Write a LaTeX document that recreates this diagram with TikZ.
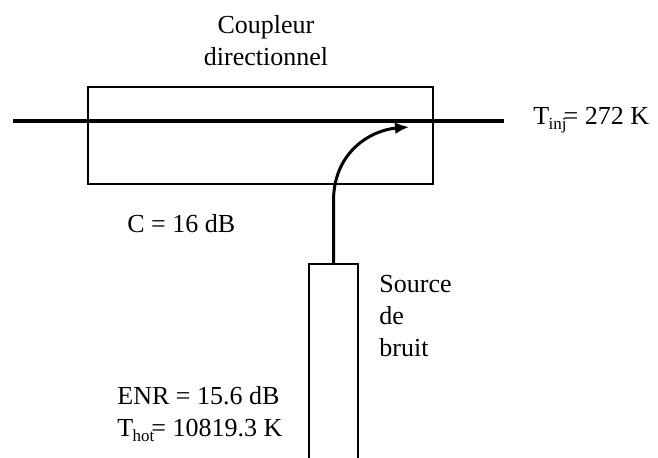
\documentclass[tikz,border=0pt]{standalone}
\usepackage{fontspec}
\setmainfont{Liberation Serif}
\usetikzlibrary{arrows.meta,positioning}
\newcommand{\indice}[1]{\kern-0.3pt\raisebox{-2.6pt}{\fontsize{8.5}{10}\selectfont #1}\kern-1.5pt}
\begin{document}
\begin{tikzpicture}[
    x=0.5pt, y=-0.5pt,
    font=\fontsize{13}{16}\selectfont,
    box/.style={rectangle, draw=black, line width=1pt, inner sep=0pt},
    lbl/.style={inner sep=0pt, align=left},
    ligne/.style={line width=1.65pt},
    arr/.style={-{Latex[length=7pt,width=6pt]}, line width=1.5pt}
  ]
  \useasboundingbox (0,0) rectangle (658,457);

  % Boxes
  \node[box, minimum width=172.5pt, minimum height=48.5pt] (coupleur) at (260.5,135.5) {};
  \node[box, minimum width=24.5pt, minimum height=103pt] (source) at (333.5,367) {};

  % Main line
  \coordinate (entree) at (13,121);
  \coordinate (sortie) at (504,121);
  \draw[ligne] (entree) -- (sortie);

  % Coupled arrow
  \coordinate (pointe) at (409,127);
  \draw[arr] (source.north) -- ++(0,-62) .. controls +(0,-50) and (372,130) .. (pointe);

  % Labels
  \node[lbl, anchor=base, align=center] (titre) at (266,65) {Coupleur\\directionnel};
  \node[lbl, anchor=base west] (tinj) at (533,124) {T\indice{inj} = 272 K};
  \node[lbl, anchor=base west] (couplage) at (127,232) {C = 16 dB};
  \node[lbl, anchor=base west] (bruit) at (379,356) {Source\\de\\bruit};
  \node[lbl, anchor=base west] (enr) at (117,436) {ENR = 15.6 dB\\T\indice{hot} = 10819.3 K};
\end{tikzpicture}
\end{document}
